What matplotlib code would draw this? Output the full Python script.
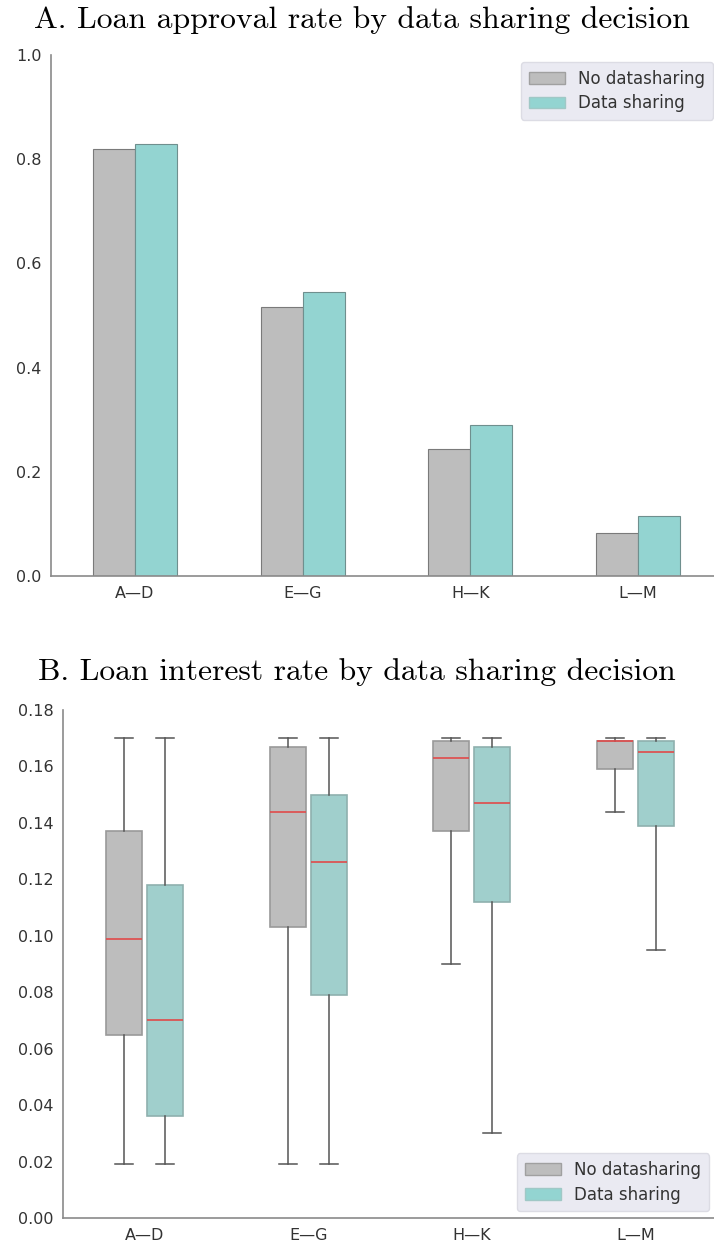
import matplotlib
matplotlib.use('Agg')
import matplotlib.pyplot as plt
import numpy as np
from matplotlib.patches import Patch

groups = ['A—D', 'E—G', 'H—K', 'L—M']
labels = ['No datasharing', 'Data sharing']

# panel A: approval rate
approval_no = [0.820, 0.516, 0.244, 0.083]
approval_yes = [0.829, 0.545, 0.290, 0.115]

# panel B: interest rate box stats (low whisker, q1, median, q3, high whisker)
rate_no = [
    [0.019, 0.065, 0.099, 0.137, 0.170],
    [0.019, 0.103, 0.144, 0.167, 0.170],
    [0.090, 0.137, 0.163, 0.169, 0.170],
    [0.144, 0.159, 0.169, 0.169, 0.170],
]
rate_yes = [
    [0.019, 0.036, 0.070, 0.118, 0.170],
    [0.019, 0.079, 0.126, 0.150, 0.170],
    [0.030, 0.112, 0.147, 0.167, 0.170],
    [0.095, 0.139, 0.165, 0.169, 0.170],
]

grey = '#bdbdbd'
teal = '#93d4d1'
teal_box = '#a0cfcc'
spine_col = '#8a8a8a'
text_col = '#333333'

W, H = 714, 1250
fig = plt.figure(figsize=(W / 100, H / 100), dpi=100)
# axes run a little past the right edge of the canvas, as in the original
ax1 = fig.add_axes([51 / W, 1 - 576 / H, 671 / W, 521 / H])
ax2 = fig.add_axes([63 / W, 1 - 1218 / H, 654 / W, 508 / H])

x = np.arange(len(groups))
w = 0.25

ax1.bar(x - w / 2, approval_no, w, color=grey, edgecolor='#7a7a7a', linewidth=0.8)
ax1.bar(x + w / 2, approval_yes, w, color=teal, edgecolor='#6f8f8e', linewidth=0.8)
ax1.set_xlim(-0.5, 3.5)
ax1.set_ylim(0, 1.0)
ax1.set_yticks(np.arange(0, 1.01, 0.2))
ax1.set_xticks(x)
ax1.set_xticklabels(groups)

stats = []
positions = []
for i in range(len(groups)):
    for vals, off in [(rate_no[i], -0.125), (rate_yes[i], 0.125)]:
        stats.append({'whislo': vals[0], 'q1': vals[1], 'med': vals[2],
                      'q3': vals[3], 'whishi': vals[4], 'fliers': []})
        positions.append(i + off)

bp = ax2.bxp(stats, positions=positions, widths=0.22, patch_artist=True,
             showfliers=False, manage_ticks=False,
             medianprops=dict(color='#e04a4a', linewidth=1.2),
             whiskerprops=dict(color='#555555', linewidth=1.1),
             capprops=dict(color='#555555', linewidth=1.1))
for k, box in enumerate(bp['boxes']):
    box.set_facecolor(grey if k % 2 == 0 else teal_box)
    box.set_edgecolor('#9a9a9a' if k % 2 == 0 else '#8fb0ae')
    box.set_linewidth(1.2)

ax2.set_xlim(-0.5, 3.5)
ax2.set_ylim(0, 0.18)
ax2.set_yticks(np.arange(0, 0.181, 0.02))
ax2.set_yticklabels(['%.2f' % v for v in np.arange(0, 0.181, 0.02)])
ax2.set_xticks(x)
ax2.set_xticklabels(groups)

for ax in (ax1, ax2):
    for s in ('top', 'right'):
        ax.spines[s].set_visible(False)
    for s in ('left', 'bottom'):
        ax.spines[s].set_color(spine_col)
        ax.spines[s].set_linewidth(1.2)
    ax.tick_params(length=0, labelsize=11.5, labelcolor=text_col, pad=7)

handles = [Patch(facecolor=grey, edgecolor='#a0a0a0', label=labels[0]),
           Patch(facecolor=teal, edgecolor='#a0c8c6', label=labels[1])]
for ax, loc, anchor in [(ax1, 'upper right', (713 / W, 1 - 62 / H)),
                        (ax2, 'lower right', (709 / W, 1 - 1211 / H))]:
    ax.legend(handles=handles, loc=loc, bbox_to_anchor=anchor,
              bbox_transform=fig.transFigure, borderaxespad=0,
              fontsize=12, frameon=True, facecolor='#eaeaf2',
              edgecolor='#dcdce4', framealpha=1, labelcolor=text_col,
              handlelength=2.2, borderpad=0.45, labelspacing=0.4)

fig.text(362 / W, 1 - 20 / H, 'A. Loan approval rate by data sharing decision',
         family='cmr10', fontsize=22.8, ha='center', va='center')
fig.text(357 / W, 1 - 672 / H, 'B. Loan interest rate by data sharing decision',
         family='cmr10', fontsize=22.8, ha='center', va='center')

fig.savefig('out.png', dpi=100)
